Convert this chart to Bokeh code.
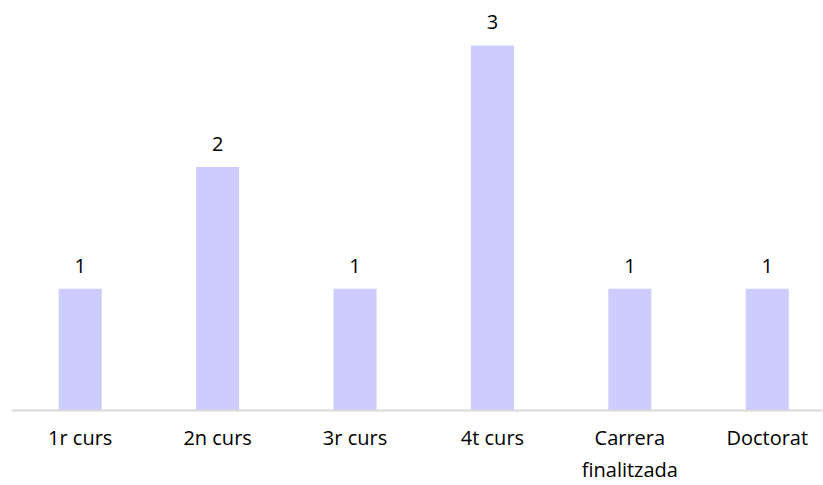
from bokeh.plotting import figure
from bokeh.models import Range1d, ColumnDataSource, FixedTicker
from bokeh.core.properties import value
from bokeh.embed import file_html
from bokeh.resources import INLINE

categories = ["1r curs", "2n curs", "3r curs", "4t curs", "Carrera\nfinalitzada", "Doctorat"]
counts = [1, 2, 1, 3, 1, 1]

positions = list(range(len(categories)))
source = ColumnDataSource(dict(x=positions, y=counts, label=[str(c) for c in counts]))

p = figure(width=823, height=485, output_backend="svg", toolbar_location=None,
           x_range=Range1d(-0.5, 5.402), y_range=Range1d(0, 3.369),
           min_border_left=11, min_border_right=1, min_border_top=0, min_border_bottom=74)

p.vbar(x="x", top="y", width=0.313, bottom=0, source=source,
       fill_color="#CCCCFF", line_color=None)

p.text(x="x", y="y", text="label", source=source, text_align="center",
       text_baseline="alphabetic", y_offset=-23, text_font=value("Open Sans"),
       text_font_size="20px", text_color="#000000")

p.xaxis.ticker = FixedTicker(ticks=positions)
p.xaxis.major_label_overrides = {i: c for i, c in enumerate(categories)}
p.xaxis.major_label_text_font = "Open Sans"
p.xaxis.major_label_text_font_size = "20px"
p.xaxis.major_label_text_color = "#000000"
p.xaxis.major_label_standoff = 13
p.xaxis.major_tick_out = 0
p.xaxis.major_tick_in = 0
p.xaxis.major_tick_line_color = None
p.xaxis.minor_tick_line_color = None
p.xaxis.axis_line_color = "#D9D9D9"
p.xaxis.axis_line_width = 2
p.yaxis.visible = False
p.xgrid.visible = False
p.ygrid.visible = False
p.outline_line_color = None

open("out.html", "w").write(file_html(p, INLINE))
